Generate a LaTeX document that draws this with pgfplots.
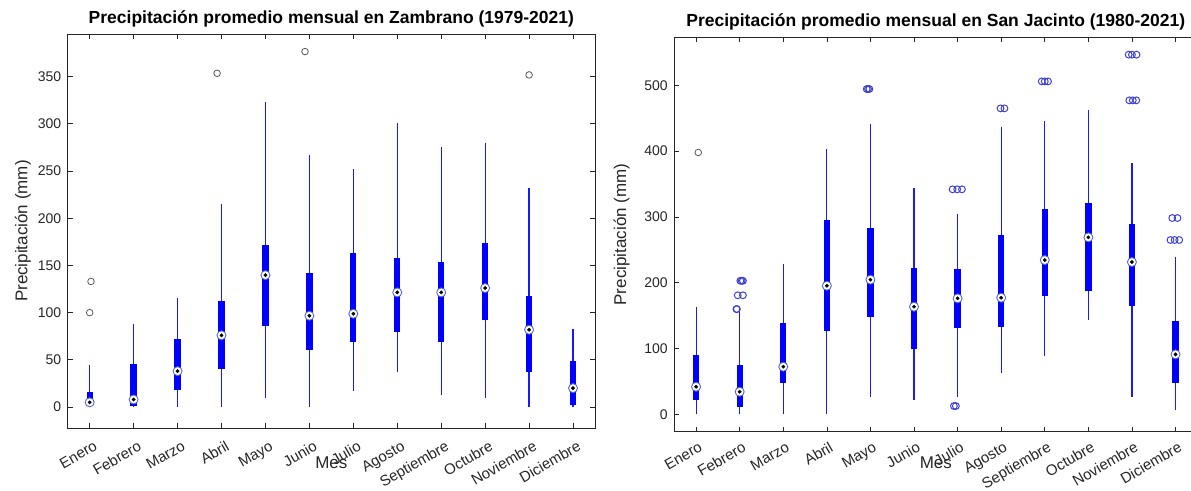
\documentclass[border=0pt]{standalone}
\usepackage{fontspec}
\setmainfont{Liberation Sans}
\usepackage{pgfplots}
\pgfplotsset{compat=1.18}

\definecolor{axgray}{gray}{0.15}
\definecolor{whisk}{rgb}{0.1,0.1,1}
\definecolor{ringc}{rgb}{0.35,0.4,0.8}
\definecolor{outg}{gray}{0.35}
\definecolor{outb}{rgb}{0.25,0.25,0.85}

\pgfplotsset{
  monthbox/.style={
    scale only axis,
    xmin=0.5, xmax=12.5,
    xtick={1,...,12},
    xticklabels={Enero,Febrero,Marzo,Abril,Mayo,Junio,Julio,Agosto,Septiembre,Octubre,Noviembre,Diciembre},
    tick align=inside, tick pos=both, major tick length=5pt,
    axis line style={axgray, line width=0.7pt},
    every tick/.style={axgray, line width=0.7pt},
    /pgf/number format/assume math mode=true,
    tick label style={text=axgray},
    yticklabel style={font=\fontsize{14}{16}\selectfont, xshift=-3pt},
    xticklabel style={font=\fontsize{15}{17}\selectfont, rotate=30,
      anchor=north east, inner sep=1pt, xshift=-2pt, yshift=-11pt},
    title style={font=\bfseries\fontsize{17.5}{20}\selectfont, yshift=-2pt},
    label style={text=axgray, font=\fontsize{17}{19}\selectfont},
    xlabel={Mes}, ylabel={Precipitación (mm)},
    xlabel style={at={(axis description cs:0.5,0)}, anchor=north, yshift=-25pt},
  },
  whiskline/.style={draw=whisk, line width=1.2pt, mark=none, forget plot},
  boxline/.style={draw=blue, line width=6.3pt, mark=none, forget plot},
  medring/.style={only marks, mark=*, mark size=4.5pt,
    mark options={fill=white, draw=ringc, line width=0.9pt}},
  meddot/.style={only marks, mark=*, mark size=1.7pt, mark options={fill=black, draw=black}},
  outgray/.style={only marks, mark=o, mark size=3.3pt, mark options={draw=outg, line width=0.8pt}},
  outblue/.style={only marks, mark=o, mark size=3.4pt, mark options={draw=outb, line width=1pt}},
}

% one month: position, lower whisker, lower quartile, median, upper quartile, upper whisker
\newcommand{\monthbox}[6]{%
  \addplot[whiskline] coordinates {(#1,#2) (#1,#6)};
  \addplot[boxline] coordinates {(#1,#3) (#1,#5)};
  \addplot[medring] coordinates {(#1,#4)};
  \addplot[meddot] coordinates {(#1,#4)};
}

\begin{document}
\begin{tikzpicture}
\useasboundingbox (0pt,0pt) rectangle (1191pt,490pt);
\clip (0pt,0pt) rectangle (1191pt,490pt);

\begin{axis}[monthbox, at={(67.7pt,62pt)}, anchor=south west,
  width=527.3pt, height=393.7pt,
  ymin=-22.2, ymax=394.8, ytick={0,50,...,350},
  title={Precipitación promedio mensual en Zambrano (1979-2021)}]
  \monthbox{1}{0}{2}{5}{16}{44}
  \monthbox{2}{0}{1}{8}{45.5}{88}
  \monthbox{3}{0}{17.6}{38}{72}{116}
  \monthbox{4}{0}{40}{76}{112.6}{215}
  \monthbox{5}{9.5}{86}{139.7}{171.5}{323}
  \monthbox{6}{0}{60}{96.7}{142}{267}
  \monthbox{7}{16.6}{68.8}{98.8}{162.7}{252}
  \monthbox{8}{36.7}{80}{121.4}{157.4}{300.6}
  \monthbox{9}{13}{68.5}{121.4}{153.8}{275}
  \monthbox{10}{10}{91.7}{126}{173.6}{279.5}
  \monthbox{11}{0}{36.7}{81.9}{117.5}{231.8}
  \monthbox{12}{0}{1.8}{20}{49}{83}
  % outliers
  \addplot[outgray] coordinates {
    (1,100) (1.03,133) (3.9,353.5) (5.9,376.5) (11,351.8)};
\end{axis}

\begin{axis}[monthbox, at={(674.3pt,58.3pt)}, anchor=south west,
  width=523pt, height=394.4pt,
  ymin=-26.3, ymax=573, ytick={0,100,...,500},
  ylabel style={yshift=8pt},
  xticklabel style={yshift=3pt},
  xlabel style={yshift=3pt},
  title={Precipitación promedio mensual en San Jacinto (1980-2021)}]
  \monthbox{1}{0}{21.8}{42}{90.2}{162.6}
  \monthbox{2}{0}{11.7}{34.4}{75}{156}
  \monthbox{3}{0}{48.1}{72.4}{139.3}{228}
  \monthbox{4}{0}{127.2}{195.5}{294.8}{403.2}
  \monthbox{5}{25.8}{148.4}{204.7}{283.7}{441.2}
  \monthbox{6}{21.8}{98.8}{163.6}{221.9}{343.5}
  \monthbox{7}{25.8}{131.7}{176.3}{221.4}{304}
  \monthbox{8}{62.3}{132.7}{177.3}{272}{437.2}
  \monthbox{9}{89.2}{179.3}{234.5}{311.6}{445.8}
  \monthbox{10}{143.4}{187.4}{269}{321.7}{462.5}
  \monthbox{11}{26.8}{164.6}{231.5}{289.8}{381.5}
  \monthbox{12}{6.6}{48.1}{91.2}{141.8}{239.6}
  % outliers
  \addplot[outgray] coordinates {(1.05,398)};
  \addplot[outblue] coordinates {
    (1.925,160) (1.935,160)
    (1.955,181) (2.075,181)
    (2.015,203) (2.045,203) (2.075,203)
    (4.915,494.4) (4.945,494.4) (4.975,494.4)
    (6.885,342) (6.99,342) (7.1,342)
    (6.915,12.7) (6.96,12.7)
    (7.985,465) (8.075,465)
    (8.93,506) (9.0,506) (9.075,506)
    (10.925,546.6) (11.0,546.6) (11.105,546.6)
    (10.94,477.2) (11.02,477.2) (11.1,477.2)
    (11.925,298.4) (12.045,298.4)
    (11.885,265) (11.98,265) (12.085,265)};
\end{axis}
\end{tikzpicture}
\end{document}
